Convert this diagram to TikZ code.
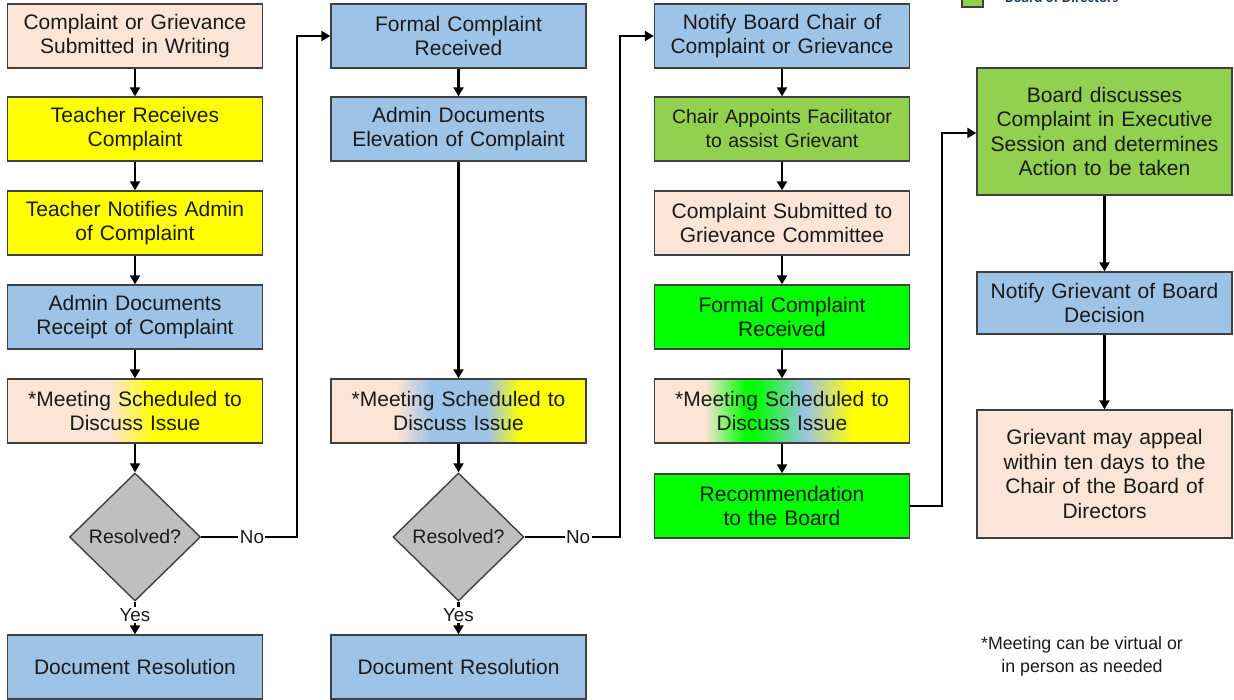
\documentclass[tikz,border=0pt]{standalone}
\usepackage{fontspec}
\setmainfont{Liberation Sans}
\newfontfamily\legfont{Carlito}
\usetikzlibrary{shapes.geometric,arrows.meta}
\definecolor{peach}{HTML}{FCE4D6}
\definecolor{bblue}{HTML}{9DC3E6}
\definecolor{byellow}{HTML}{FFFF00}
\definecolor{lgreen}{HTML}{92D050}
\definecolor{bgreen}{HTML}{00FF00}
\definecolor{dgray}{HTML}{BFBFBF}
\definecolor{bordc}{HTML}{404040}
\definecolor{txtc}{HTML}{1A1A1A}
\definecolor{navy}{HTML}{1F3864}
\newcommand\fmain{\fontsize{21}{24.4}\selectfont}
\newcommand\fsmall{\fontsize{19.5}{24}\selectfont}
\newcommand\flab{\fontsize{18.8}{22}\selectfont}
\begin{document}
\begin{tikzpicture}[x=1pt,y=-1pt,
  box/.style={draw=bordc, line width=1.3pt, minimum width=255pt, minimum height=64pt,
    text width=248pt, align=center, inner sep=0pt, font=\fmain, text=txtc},
  tallbox/.style={box, minimum height=127pt},
  dec/.style={diamond, draw=bordc, line width=1.4pt, fill=dgray, minimum width=131pt,
    minimum height=128pt, inner sep=0pt, font=\fsmall, text=txtc},
  arr/.style={line width=2.1pt, -{Triangle[length=9pt,width=10pt]}},
  lab/.style={fill=white, inner sep=1.5pt, font=\flab, text=txtc}]
\useasboundingbox (0,0) rectangle (1234,700);

% legend (cut off at the top)
\begin{scope}
\clip (0,0) rectangle (1234,700);
\draw[draw=bordc, line width=1.2pt, fill=lgreen] (962,-14) rectangle (983,7);
\node[anchor=base west, inner sep=0pt, font=\legfont\bfseries\fontsize{15}{18}\selectfont, text=navy] (leg) at (1005,3) {Board of Directors};
\end{scope}

% ---------- column 1 ----------
\node[box, fill=peach]   (a1) at (135,36)  {Complaint or Grievance\\Submitted in Writing};
\node[box, fill=byellow] (a2) at (135,129) {Teacher Receives\\Complaint};
\node[box, fill=byellow] (a3) at (135,223) {Teacher Notifies Admin\\of Complaint};
\node[box, fill=bblue]   (a4) at (135,317) {Admin Documents\\Receipt of Complaint};
% gradient meeting box 1 (x 7.5..262.5)
\fill[peach] (7.5,379) rectangle (110,443);
\shade[left color=peach, right color=byellow] (109,379) rectangle (154,443);
\fill[byellow] (153,379) rectangle (262.5,443);
\node[box] (a5) at (135,411) {*Meeting Scheduled to\\Discuss Issue};
\node[dec] (a6) at (135,537) {Resolved?};
\node[box, fill=bblue] (a7) at (135,667) {Document Resolution};

% ---------- column 2 ----------
\node[box, fill=bblue] (b1) at (458.5,36)  {Formal Complaint\\Received};
\node[box, fill=bblue] (b2) at (458.5,129) {Admin Documents\\Elevation of Complaint};
% gradient meeting box 2 (x 331..586)
\fill[peach] (331,379) rectangle (398,443);
\shade[left color=peach, right color=bblue] (397,379) rectangle (431,443);
\fill[bblue] (430,379) rectangle (488,443);
\shade[left color=bblue, right color=byellow] (487,379) rectangle (521,443);
\fill[byellow] (520,379) rectangle (586,443);
\node[box] (b3) at (458.5,411) {*Meeting Scheduled to\\Discuss Issue};
\node[dec] (b4) at (458.5,537) {Resolved?};
\node[box, fill=bblue] (b5) at (458.5,667) {Document Resolution};

% ---------- column 3 ----------
\node[box, fill=bblue]  (c1) at (782,36)  {Notify Board Chair of\\Complaint or Grievance};
\node[box, fill=lgreen, font=\fsmall] (c2) at (782,129) {Chair Appoints Facilitator\\to assist Grievant};
\node[box, fill=peach]  (c3) at (782,223) {Complaint Submitted to\\Grievance Committee};
\node[box, fill=bgreen] (c4) at (782,317) {Formal Complaint\\Received};
% gradient meeting box 3 (x 654.5..909.5)
\fill[peach] (654.5,379) rectangle (706,443);
\shade[left color=peach, right color=bgreen] (705,379) rectangle (746,443);
\fill[bgreen] (745,379) rectangle (756,443);
\shade[left color=bgreen, right color=bblue] (755,379) rectangle (806,443);
\shade[left color=bblue, right color=byellow] (805,379) rectangle (854,443);
\fill[byellow] (853,379) rectangle (909.5,443);
\node[box] (c5) at (782,411) {*Meeting Scheduled to\\Discuss Issue};
\node[box, fill=bgreen] (c6) at (782,506) {Recommendation\\to the Board};

% ---------- column 4 ----------
\node[tallbox, fill=lgreen] (d1) at (1104.5,131.5) {Board discusses\\Complaint in Executive\\Session and determines\\Action to be taken};
\node[box, fill=bblue, minimum height=62pt] (d2) at (1104.5,303) {Notify Grievant of Board\\Decision};
\node[tallbox, fill=peach, minimum height=128pt] (d3) at (1104.5,474) {Grievant may appeal\\within ten days to the\\Chair of the Board of\\Directors};

% footnote
\node[align=center, inner sep=0pt, font=\fontsize{17.8}{23}\selectfont, text=txtc] (fn) at (1082,656) {*Meeting can be virtual or\\in person as needed};

% turning points
\coordinate (t1) at (297,537);
\coordinate (t2) at (620,537);
\coordinate (t3) at (942,506);

% ---------- connectors ----------
\draw[arr] (a1.south) -- (a2.north);
\draw[arr] (a2.south) -- (a3.north);
\draw[arr] (a3.south) -- (a4.north);
\draw[arr] (a4.south) -- (a5.north);
\draw[arr] (a5.south) -- (a6.north);
\draw[arr] (a6.south) -- node[lab, pos=0.42] {Yes} (a7.north);
\draw[arr] (a6.east) -- node[lab, pos=0.53] {No} (t1) |- (b1.west);

\draw[arr] (b1.south) -- (b2.north);
\draw[arr] (b2.south) -- (b3.north);
\draw[arr] (b3.south) -- (b4.north);
\draw[arr] (b4.south) -- node[lab, pos=0.42] {Yes} (b5.north);
\draw[arr] (b4.east) -- node[lab, pos=0.56] {No} (t2) |- (c1.west);

\draw[arr] (c1.south) -- (c2.north);
\draw[arr] (c2.south) -- (c3.north);
\draw[arr] (c3.south) -- (c4.north);
\draw[arr] (c4.south) -- (c5.north);
\draw[arr] (c5.south) -- (c6.north);
\draw[arr] (c6.east) -- (t3) |- ([yshift=-1.5pt]d1.west);

\draw[arr] (d1.south) -- (d2.north);
\draw[arr] (d2.south) -- (d3.north);
\end{tikzpicture}
\end{document}
